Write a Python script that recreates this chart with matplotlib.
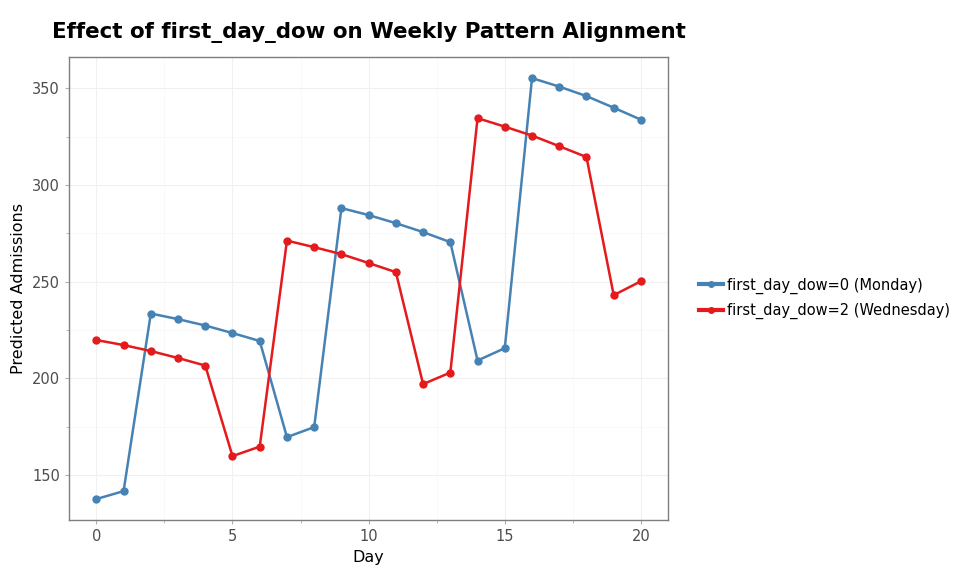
import numpy as np
import matplotlib
matplotlib.use('Agg')
import matplotlib.pyplot as plt
from matplotlib.ticker import MultipleLocator
from matplotlib.lines import Line2D

# values
days = list(range(21))
monday = [137.6, 141.7, 233.5, 230.6, 227.3, 223.4, 219.3, 169.6, 174.8, 288.0, 284.4,
          280.2, 275.6, 270.4, 209.2, 215.6, 355.2, 350.8, 345.9, 339.9, 333.7]
wednesday = [219.8, 217.2, 214.1, 210.5, 206.6, 159.8, 164.7, 271.2, 267.8, 264.2, 259.6,
             254.9, 197.0, 203.0, 334.5, 330.1, 325.5, 320.0, 314.4, 243.0, 250.2]
series_labels = ['first_day_dow=0 (Monday)', 'first_day_dow=2 (Wednesday)']
series_colors = ['#4682b4', '#e41a1c']

fig = plt.figure(figsize=(9.6, 5.76), dpi=100)
ax = fig.add_axes([0.072, 0.097, 0.624, 0.804])

for vals, lab, col in zip([monday, wednesday], series_labels, series_colors):
    ax.plot(days, vals, color=col, lw=1.8, marker='o', ms=5, label=lab)

ax.set_xlim(-1, 21)
ax.set_ylim(126.7, 366.1)
ax.xaxis.set_major_locator(MultipleLocator(5))
ax.xaxis.set_minor_locator(MultipleLocator(2.5))
ax.yaxis.set_major_locator(MultipleLocator(50))
ax.yaxis.set_minor_locator(MultipleLocator(25))
ax.grid(True, which='major', color='#f0f0f0', lw=0.8)
ax.grid(True, which='minor', color='#f7f7f7', lw=0.5)
ax.set_axisbelow(True)
for s in ax.spines.values():
    s.set_color('#7f7f7f')
    s.set_linewidth(1.0)
ax.tick_params(which='both', colors='#b0b0b0', labelcolor='#4d4d4d', labelsize=10.5, length=3)
ax.tick_params(which='minor', length=2)

ax.set_xlabel('Day', fontsize=11.5)
ax.set_ylabel('Predicted Admissions', fontsize=11.5)
fig.text(0.054, 0.944, 'Effect of first_day_dow on Weekly Pattern Alignment',
         fontsize=15.4, fontweight='bold', va='center')

handles = [Line2D([], [], color=c, lw=3, marker='o', ms=4) for c in series_colors]
ax.legend(handles, series_labels, loc='center left', bbox_to_anchor=(1.03, 0.479),
          frameon=False, fontsize=10.5, handlelength=1.6, labelspacing=0.65,
          handletextpad=0.3)

fig.savefig('out.png', dpi=100)
